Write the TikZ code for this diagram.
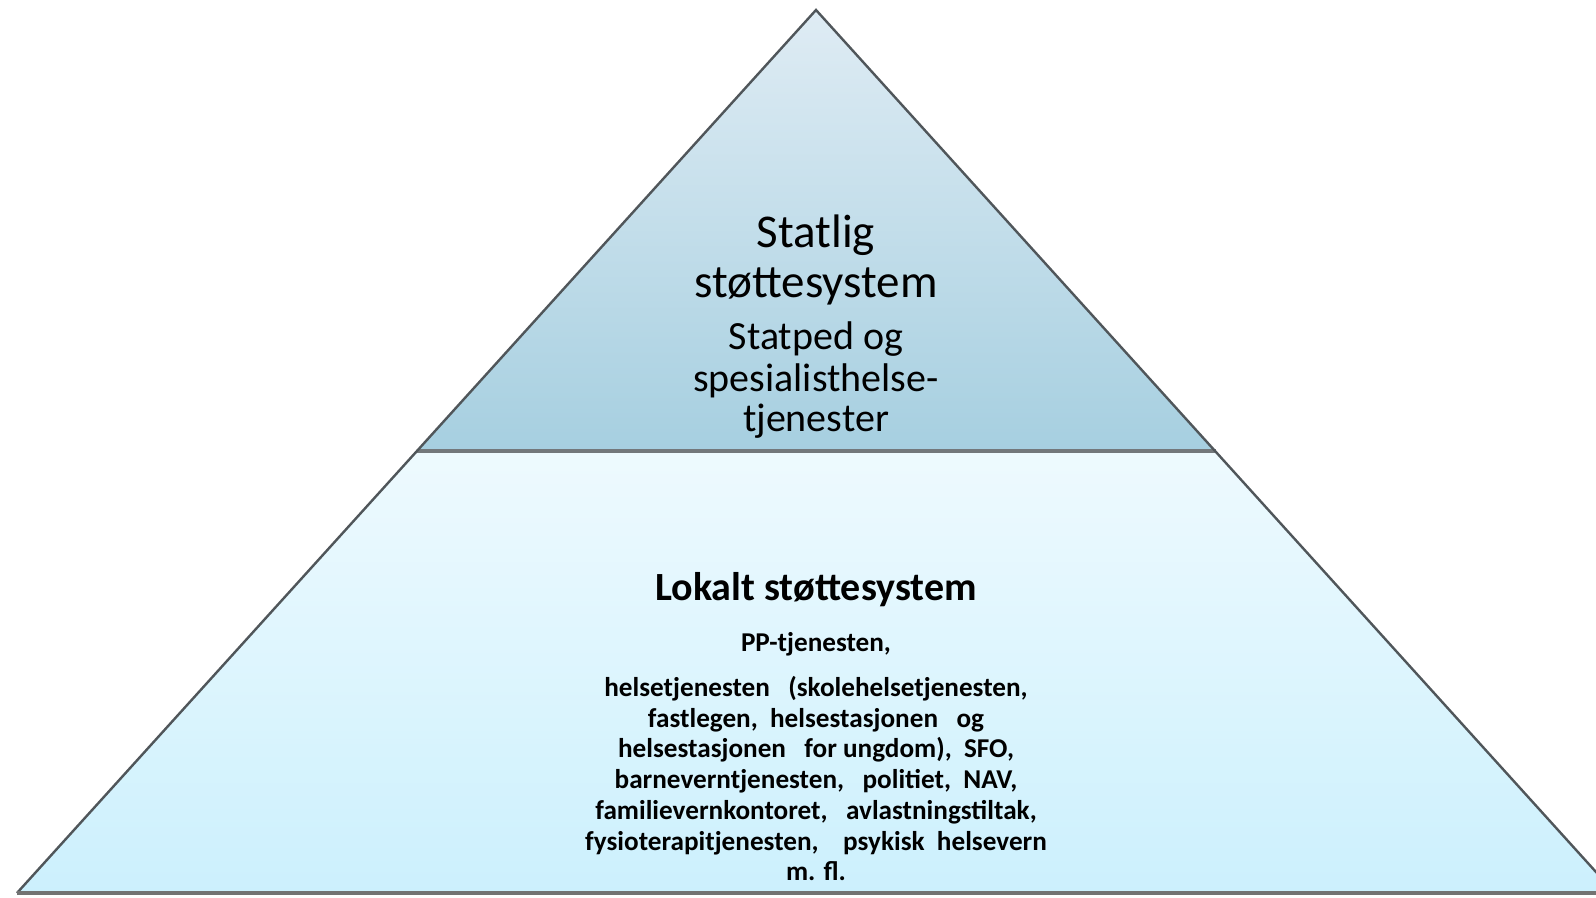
\documentclass[tikz,border=0pt]{standalone}
\usepackage{fontspec}
\setmainfont{Carlito}
\definecolor{topA}{RGB}{223,236,244}
\definecolor{topB}{RGB}{166,207,224}
\definecolor{lowA}{RGB}{238,250,254}
\definecolor{lowB}{RGB}{204,240,253}
\definecolor{edge}{RGB}{80,86,90}
\tikzset{
  bigtxt/.style={anchor=base, inner sep=0pt, font=\fontsize{23.5pt}{26pt}\selectfont},
  midtxt/.style={anchor=base, inner sep=0pt, font=\fontsize{20pt}{22pt}\selectfont},
  headtxt/.style={anchor=base, inner sep=0pt, font=\fontsize{20pt}{22pt}\selectfont\bfseries},
  smalltxt/.style={anchor=base, inner sep=0pt, font=\fontsize{13.6pt}{15pt}\selectfont\bfseries},
  outline/.style={draw=edge, line width=1.2pt, line join=miter}
}
\begin{document}
\begin{tikzpicture}[x=0.5pt,y=-0.5pt]
\useasboundingbox (0,0) rectangle (1596,898);
\clip (0,0) rectangle (1596,898);
\fill[white] (0,0) rectangle (1596,898);
\coordinate (A) at (816,10);
\coordinate (L) at (17,893);
\coordinate (R) at (1615,893);
\coordinate (DL) at (416.5,451);
\coordinate (DR) at (1215.5,451);
% sections
\shade[top color=topA, bottom color=topB] (A) -- (DR) -- (DL) -- cycle;
\shade[top color=lowA, bottom color=lowB] (DL) -- (DR) -- (R) -- (L) -- cycle;
% divider
\draw[draw=edge!80, line width=1.6pt] (DL) -- (DR);
% outline
\draw[outline] (L) -- (A) -- (R);
\draw[draw=black!55, line width=1.8pt] (L) -- (R);
% top text
\node[bigtxt] (t1) at (816,248) {Statlig};
\node[bigtxt] (t2) at (816,298) {støttesystem};
\node[midtxt] (t3) at (816,350) {Statped og};
\node[midtxt] (t4) at (816,392) {spesialisthelse-};
\node[midtxt] (t5) at (816,432) {tjenester};
% lower text
\node[headtxt] (h1) at (816,600) {Lokalt støttesystem};
\node[smalltxt] (s0) at (816,651) {PP-tjenesten,};
\node[smalltxt] (s1) at (816,696.5) {helsetjenesten~~ (skolehelsetjenesten,};
\node[smalltxt] (s2) at (816,727.2) {fastlegen,~ helsestasjonen~~ og};
\node[smalltxt] (s3) at (816,757.9) {helsestasjonen~~ for ungdom),~ SFO,};
\node[smalltxt] (s4) at (816,788.6) {barneverntjenesten,~~ politiet,~ NAV,};
\node[smalltxt] (s5) at (816,819.3) {familievernkontoret,~~ avlastningstiltak,};
\node[smalltxt] (s6) at (816,850) {fysioterapitjenesten,~~~ psykisk~ helsevern};
\node[smalltxt] (s7) at (816,880.7) {m. fl.};
\end{tikzpicture}
\end{document}
